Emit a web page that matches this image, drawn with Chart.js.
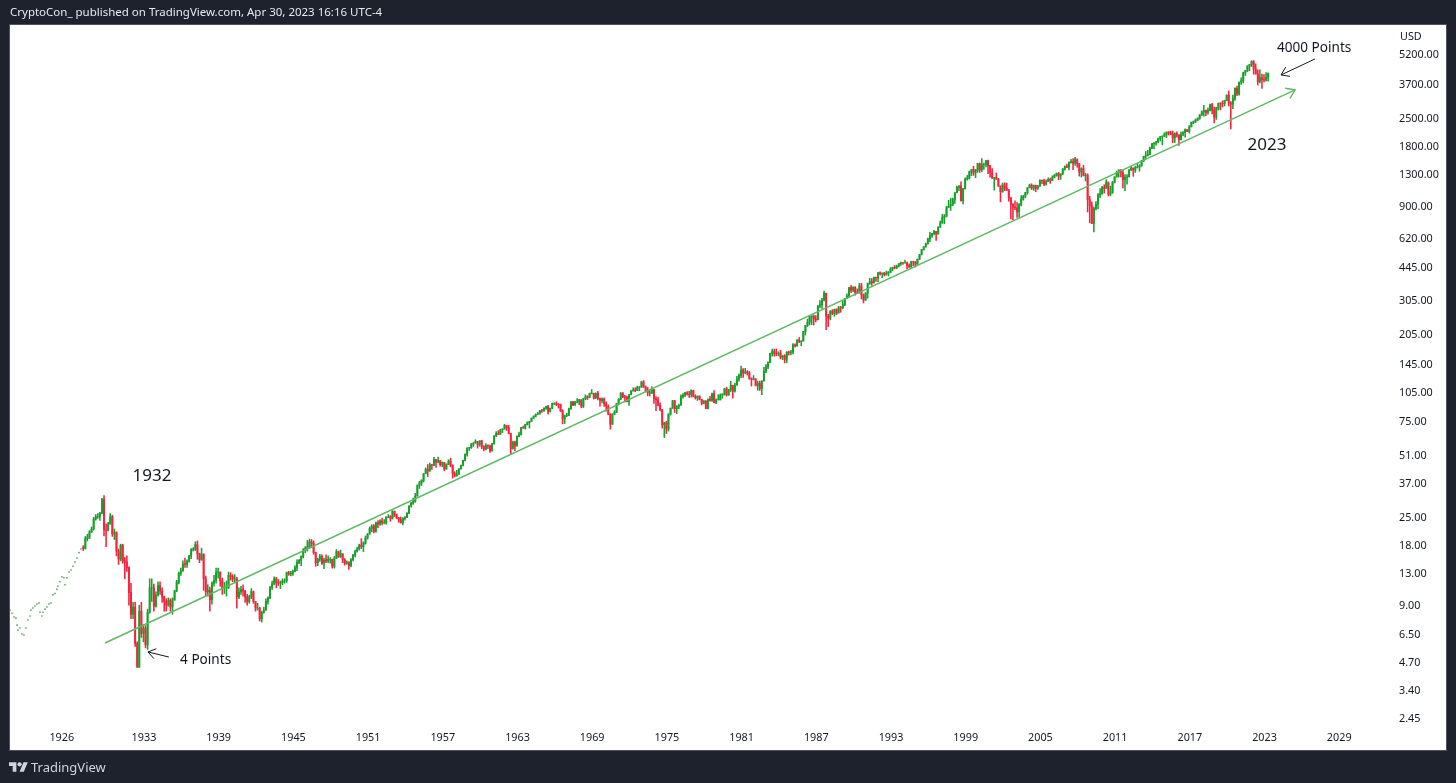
<html>
<head>
    <script src="https://cdn.jsdelivr.net/npm/chart.js@4"></script>
    <style>
        html, body {
            margin: 0;
            background-color: #1e222d;
            font-family: "Noto Sans", sans-serif;
            overflow: hidden;
        }
        #panel {
            position: absolute;
            left: 10px;
            top: 25px;
            width: 1436px;
            height: 725px;
            background-color: #fff;
            box-shadow: 0 0 0 1px #50535e;
        }
        #wrap {
            position: absolute;
            left: 0;
            top: 0;
            width: 1456px;
            height: 783px;
        }
        #header {
            position: absolute;
            left: 10px;
            top: 4px;
            font-size: 11.5px;
            line-height: 16px;
            color: #e8e9ee;
        }
        #footer {
            position: absolute;
            left: 9px;
            top: 758px;
            height: 18px;
            display: flex;
            align-items: center;
            font-size: 13px;
            color: #d1d4dc;
        }
        #footer svg {
            width: 19px;
            height: 15px;
            margin-right: 3px;
        }
    </style>
</head>
<body>
    <div id="panel"></div>
    <div id="wrap"><canvas id="priceChart"></canvas></div>
    <div id="header">CryptoCon_ published on TradingView.com, Apr 30, 2023 16:16 UTC-4</div>
    <div id="footer">
        <svg viewBox="0 0 36 28"><path fill="#d1d4dc" d="M14 22H7V11H0V4h14v18zM28 22h-8l7.5-18h8L28 22z"></path><circle fill="#d1d4dc" cx="20" cy="8" r="4"></circle></svg>
        TradingView
    </div>
    <script>
        const yearTicks = [1926.4, 1933, 1939, 1945, 1951, 1957, 1963, 1969, 1975, 1981, 1987, 1993, 1999, 2005, 2011, 2017, 2023, 2029];
        const priceTicks = [5200, 3700, 2500, 1800, 1300, 900, 620, 445, 305, 205, 145, 105, 75, 51, 37, 25, 18, 13, 9, 6.5, 4.7, 3.4, 2.45];

        // thin early data, only dots in the picture
        const dotYears = [1922.24, 1922.4, 1922.56, 1922.72, 1922.8, 1922.88, 1923.04, 1923.2, 1923.36, 1923.52, 1923.68, 1923.84, 1923.92, 1924.08, 1924.24, 1924.4, 1924.57, 1924.65, 1924.81, 1924.89, 1925.05, 1925.21, 1925.37, 1925.53, 1925.69, 1925.85, 1926.01, 1926.09, 1926.25, 1926.41, 1926.57, 1926.65, 1926.81, 1926.98, 1927.14, 1927.3, 1927.46, 1927.62, 1927.78, 1927.94];
        const dotPrices = [8.5, 8.2, 7.85, 7.75, 7.15, 6.75, 6.92, 6.45, 6.38, 6.92, 7.59, 7.95, 8.5, 8.71, 8.92, 9.13, 9.23, 8.3, 7.95, 8.3, 8.6, 8.82, 9.13, 9.23, 10.15, 10.3, 10.8, 11.2, 11.8, 12.5, 12.35, 11.4, 12.35, 13.2, 13.5, 14.1, 14.8, 15.5, 16.5, 17.2];

        // one candle per two months, one row per year, from 1928
        const firstYear = 1928;
        const barsPerYear = 6;
        const firstOpen = 17.5;
        const closes = [
            17.3,19.4,19.7,21.0,21.7,24.3,
            25.0,25.0,26.0,30.5,21.5,21.4,
            23.0,25.0,20.5,20.8,16.8,15.3,
            18.0,15.0,14.8,13.9,10.4,8.1,
            8.8,5.8,4.4,8.4,6.5,6.9,
            5.7,8.3,11.0,11.0,8.9,10.1,
            11.3,10.6,9.9,9.4,9.0,9.5,
            8.8,9.6,10.6,11.7,13.0,13.4,
            14.5,14.4,14.9,15.9,17.1,17.2,
            18.1,16.3,15.2,16.2,12.2,10.5,
            10.7,9.6,11.6,12.0,13.1,13.2,
            11.9,11.0,11.0,11.0,12.7,12.5,
            12.2,12.2,9.9,10.5,10.8,10.6,
            9.9,9.4,9.9,10.5,9.4,8.7,
            8.7,7.7,8.3,8.5,9.4,9.8,
            11.0,11.5,12.2,11.7,11.6,11.7,
            11.9,11.9,13.1,12.9,13.0,13.3,
            13.9,14.7,15.1,15.8,17.0,17.4,
            17.7,18.7,18.4,16.5,14.7,15.3,
            15.8,14.6,15.2,15.0,15.3,15.3,
            14.1,15.5,16.7,15.8,16.3,15.2,
            14.6,14.7,14.2,15.2,16.0,16.8,
            17.2,18.0,17.7,18.4,19.5,20.4,
            21.8,22.4,21.0,23.3,22.9,23.8,
            23.3,23.3,24.9,25.0,24.5,26.6,
            25.5,24.6,24.1,23.3,24.5,24.8,
            26.0,28.3,29.2,29.8,31.7,36.0,
            36.8,37.96,41.0,43.2,42.3,45.5,
            45.3,48.4,46.97,47.5,45.6,46.7,
            43.3,45.7,47.4,45.2,41.1,39.99,
            40.8,43.4,45.2,47.8,51.3,55.2,
            55.4,57.6,58.5,59.6,57.5,59.9,
            56.1,54.4,56.9,56.5,53.4,58.1,
            63.4,65.3,64.6,68.1,68.6,71.6,
            69.96,65.2,54.8,59.1,56.5,63.1,
            64.3,69.8,69.4,72.5,74.0,75.0,
            77.8,79.5,81.4,81.8,85.0,84.8,
            87.4,89.1,84.1,87.2,92.4,92.4,
            91.2,91.1,84.7,77.1,80.2,80.3,
            86.8,94.0,90.6,93.6,93.9,96.5,
            89.4,97.6,99.6,98.9,103.4,103.9,
            98.1,103.7,97.7,95.5,97.1,92.1,
            89.5,81.5,72.7,81.5,83.3,92.2,
            96.8,103.9,99.7,99.0,94.2,102.1,
            106.6,107.7,107.1,111.1,111.6,118.1,
            111.7,106.97,104.3,104.3,108.3,97.6,
            96.2,90.3,86.0,72.2,73.9,68.6,
            81.6,87.3,95.2,86.9,89.0,90.2,
            99.7,101.6,104.3,102.9,102.1,107.5,
            99.8,98.4,100.5,96.8,92.3,95.1,
            87.0,97.0,95.5,103.3,93.2,96.1,
            96.3,101.8,102.9,109.3,101.8,107.9,
            113.7,106.3,114.2,122.4,127.5,135.8,
            131.3,132.8,131.2,122.8,121.9,122.6,
            113.1,116.4,109.6,119.5,133.7,140.6,
            148.1,164.4,168.1,164.4,163.6,164.9,
            157.1,160.1,153.2,166.7,166.1,167.2,
            181.2,179.8,191.9,188.6,189.8,211.3,
            226.9,235.5,250.8,252.9,243.98,242.2,
            284.2,288.4,304.0,329.8,251.8,247.1,
            267.8,261.3,273.5,261.5,278.97,277.7,
            288.9,309.6,317.98,351.5,340.4,353.4,
            331.9,330.8,358.0,322.6,304.0,330.2,
            367.1,375.3,371.2,395.4,392.5,417.1,
            412.7,414.9,408.1,414.0,418.7,435.7,
            443.4,440.2,450.5,463.6,467.8,466.5,
            467.1,450.9,444.3,475.5,472.4,459.3,
            487.4,514.7,544.8,561.9,581.5,615.9,
            640.4,654.2,670.6,651.99,705.3,740.7,
            790.8,801.3,885.1,899.5,914.6,970.4,
            1049.3,1111.8,1133.8,957.3,1098.7,1229.2,
            1238.3,1335.2,1372.7,1320.4,1362.9,1469.3,
            1366.4,1452.4,1454.6,1517.7,1429.4,1320.3,
            1239.9,1249.5,1224.4,1133.6,1059.8,1148.1,
            1106.7,1076.9,989.8,916.1,885.8,879.8,
            841.2,916.9,974.5,1008.0,1050.7,1111.9,
            1144.9,1107.3,1140.8,1104.2,1130.2,1211.9,
            1203.6,1156.9,1191.3,1220.3,1207.0,1248.3,
            1280.7,1310.6,1270.2,1303.8,1377.9,1418.3,
            1406.8,1482.4,1503.4,1473.99,1549.4,1468.4,
            1330.6,1385.6,1280.0,1282.8,968.8,903.3,
            735.1,872.8,919.3,1020.6,1036.2,1115.1,
            1104.5,1186.7,1030.7,1049.3,1183.3,1257.6,
            1327.2,1363.6,1320.6,1218.9,1253.3,1257.6,
            1365.7,1397.9,1362.2,1406.6,1412.2,1426.2,
            1514.7,1597.6,1606.3,1632.97,1756.5,1848.4,
            1859.5,1883.95,1960.2,2003.4,2018.1,2058.9,
            2104.5,2085.5,2063.1,1972.2,2079.4,2043.9,
            1932.2,2065.3,2098.9,2170.95,2126.2,2238.8,
            2363.6,2384.2,2423.4,2471.7,2575.3,2673.6,
            2713.8,2648.1,2718.4,2901.5,2711.7,2506.9,
            2784.5,2945.8,2941.8,2926.5,3037.6,3230.8,
            2954.2,2912.4,3100.3,3500.3,3269.96,3756.1,
            3811.2,4181.2,4297.5,4522.7,4605.4,4766.2,
            4373.9,4131.9,3785.4,3955.0,3871.98,3839.5,
            3970.2,4169.5
        ];
        const highs = [
            17.9,19.9,20.4,21.3,22.2,24.8,
            25.6,25.9,26.3,30.9,31.9,23.0,
            23.4,25.9,25.4,21.7,21.0,17.2,
            18.2,18.2,15.6,15.9,14.0,11.6,
            9.3,9.3,5.9,9.0,9.3,7.2,
            7.1,8.6,12.2,12.2,11.5,10.5,
            11.8,11.8,11.0,10.0,9.7,9.8,
            9.7,9.8,10.7,12.0,13.2,13.8,
            15.0,15.5,15.2,16.0,17.3,17.5,
            18.7,18.9,16.4,17.4,16.3,12.6,
            11.4,11.1,11.8,12.7,13.8,13.8,
            13.2,12.3,11.7,11.9,13.2,13.1,
            12.8,12.8,12.4,11.0,11.2,11.4,
            10.7,10.2,10.1,10.9,10.6,9.4,
            9.2,8.8,8.4,8.8,9.7,9.9,
            11.2,11.9,12.5,12.4,12.1,11.9,
            12.2,12.2,13.2,13.3,13.3,13.5,
            14.2,15.2,15.3,15.9,17.3,17.7,
            19.0,19.3,19.2,18.9,16.6,15.5,
            16.2,16.1,15.5,16.1,15.9,15.6,
            15.3,15.8,17.1,16.8,17.0,16.3,
            15.4,15.0,14.9,15.4,16.2,17.0,
            17.6,18.2,19.4,18.7,20.0,20.6,
            22.2,22.8,22.8,23.5,23.9,24.1,
            24.6,24.2,25.0,25.6,25.3,26.8,
            26.7,25.8,24.8,24.9,24.7,25.0,
            26.2,28.3,29.5,31.0,32.7,36.0,
            37.6,38.3,41.1,43.9,45.6,46.4,
            45.7,49.6,47.9,49.7,47.9,47.0,
            46.7,46.0,48.2,49.1,45.5,42.0,
            42.6,43.5,45.3,48.0,51.6,55.3,
            55.6,58.2,58.7,60.7,58.0,60.0,
            60.4,56.7,58.0,57.3,57.0,58.3,
            63.7,66.6,67.4,68.5,69.0,72.6,
            71.1,71.6,65.5,59.8,59.8,63.5,
            66.4,70.0,71.0,72.6,74.6,75.2,
            78.0,80.0,81.7,83.4,85.3,86.3,
            87.8,89.6,90.3,87.5,92.7,93.0,
            94.1,92.2,91.6,85.8,80.7,82.4,
            87.4,94.3,94.6,94.6,97.6,96.6,
            96.0,97.9,101.9,100.9,104.0,108.4,
            103.7,104.2,106.2,98.2,98.5,98.3,
            93.9,90.7,82.0,81.9,85.0,92.6,
            97.6,104.7,104.5,101.2,100.4,102.2,
            107.0,110.4,110.7,112.6,112.1,119.2,
            120.2,113.0,111.0,108.5,111.8,108.3,
            99.8,99.0,93.0,86.1,74.3,75.2,
            82.0,87.6,95.6,95.6,90.0,91.6,
            102.0,103.4,104.9,105.8,106.0,107.8,
            107.0,102.0,100.5,100.7,96.9,95.3,
            95.0,97.1,100.3,104.0,107.0,97.4,
            102.0,103.0,103.1,109.6,111.3,108.6,
            119.1,114.0,116.6,126.0,130.0,141.9,
            137.9,138.4,134.7,133.8,124.0,127.3,
            122.9,119.3,119.5,120.0,140.0,144.4,
            149.0,165.0,172.6,172.7,173.0,167.6,
            170.4,160.4,162.0,168.0,169.0,170.4,
            183.9,183.6,192.0,197.0,190.0,212.0,
            227.0,244.0,252.0,254.0,256.0,254.0,
            285.0,302.0,310.0,337.0,329.0,258.0,
            269.0,272.0,274.0,275.0,283.0,283.0,
            300.0,310.0,327.0,352.0,360.0,354.0,
            354.0,346.0,369.0,369.0,326.0,331.0,
            370.0,391.0,390.0,396.0,396.0,418.0,
            421.0,416.0,419.0,425.0,423.0,442.0,
            445.0,453.0,455.0,464.0,471.0,470.0,
            482.0,471.0,462.0,476.0,475.0,474.0,
            488.0,515.0,546.0,564.0,587.0,622.0,
            664.0,656.0,680.0,672.0,708.0,757.0,
            818.0,815.0,897.0,961.0,983.0,986.0,
            1052.0,1133.0,1139.0,1190.0,1103.0,1244.0,
            1281.0,1346.0,1373.0,1421.0,1374.0,1473.0,
            1478.0,1553.0,1478.0,1518.0,1530.0,1438.0,
            1384.0,1250.0,1316.0,1239.0,1134.0,1173.0,
            1177.0,1172.0,1091.0,992.0,925.0,954.0,
            935.0,926.0,1015.0,1017.0,1053.0,1112.0,
            1158.0,1163.0,1147.0,1146.0,1143.0,1217.0,
            1213.0,1229.0,1217.0,1246.0,1243.0,1275.0,
            1295.0,1318.0,1326.0,1304.0,1389.0,1431.0,
            1461.0,1499.0,1541.0,1556.0,1576.0,1523.0,
            1471.0,1399.0,1440.0,1314.0,1303.0,1007.0,
            944.0,888.0,946.0,1040.0,1101.0,1130.0,
            1150.0,1220.0,1174.0,1131.0,1196.0,1263.0,
            1345.0,1365.0,1371.0,1357.0,1293.0,1292.0,
            1371.0,1423.0,1392.0,1426.0,1474.0,1449.0,
            1525.0,1598.0,1687.0,1710.0,1775.0,1849.0,
            1868.0,1897.0,1968.0,2005.0,2019.0,2094.0,
            2120.0,2126.0,2135.0,2133.0,2094.0,2116.0,
            2044.0,2112.0,2121.0,2194.0,2176.0,2278.0,
            2371.0,2401.0,2454.0,2491.0,2582.0,2695.0,
            2873.0,2718.0,2791.0,2917.0,2941.0,2815.0,
            2814.0,2949.0,2964.0,3028.0,3050.0,3248.0,
            3394.0,3000.0,3234.0,3515.0,3588.0,3760.0,
            3950.0,4218.0,4301.0,4538.0,4608.0,4809.0,
            4819.0,4637.0,4325.0,4325.0,4120.0,4101.0,
            4195.0,4170.0
        ];
        const lows = [
            16.9,17.2,18.9,19.4,20.8,21.4,
            24.0,24.5,23.9,25.9,20.0,17.7,
            21.2,22.9,19.9,19.2,15.9,14.4,
            15.0,14.6,12.2,13.3,9.0,7.7,
            7.7,5.6,4.4,4.4,6.2,5.9,
            5.5,5.4,8.2,9.4,8.4,8.8,
            10.0,10.2,9.3,8.4,8.4,8.9,
            8.4,8.1,9.5,10.5,11.5,12.7,
            13.3,13.9,13.9,14.8,15.4,16.8,
            16.9,15.3,14.7,15.1,10.7,10.0,
            10.0,8.4,9.1,11.2,11.6,12.3,
            11.2,10.2,10.3,10.0,10.9,12.0,
            11.8,11.7,8.7,9.7,10.2,10.0,
            9.3,9.0,9.2,9.7,9.2,8.4,
            8.5,7.5,7.4,8.2,8.5,9.1,
            9.7,10.8,11.4,11.0,11.3,10.9,
            11.4,11.6,11.7,12.7,12.6,12.7,
            13.2,13.4,14.5,14.2,15.5,16.5,
            16.8,17.3,17.5,16.2,14.1,14.2,
            14.9,14.4,13.7,14.7,14.7,14.6,
            13.8,13.8,15.4,15.6,15.6,14.7,
            14.3,14.4,13.6,14.0,15.0,15.7,
            16.6,17.0,17.3,16.7,18.2,19.3,
            20.6,21.0,20.7,20.9,22.0,22.6,
            22.7,23.0,22.9,24.7,23.7,24.3,
            25.0,24.4,23.4,23.2,22.7,24.0,
            24.7,25.9,27.9,28.8,29.5,31.7,
            34.6,35.8,37.3,41.0,39.7,42.3,
            43.1,45.0,44.1,46.5,44.7,44.4,
            42.4,43.2,45.5,44.4,38.98,39.5,
            39.9,40.7,43.2,44.9,47.6,50.2,
            53.6,54.9,56.3,58.3,55.1,56.3,
            54.7,53.4,54.0,54.7,52.5,53.2,
            57.6,62.9,64.3,64.5,65.9,68.7,
            67.6,65.0,51.4,54.5,53.5,56.4,
            62.7,64.1,69.2,68.7,71.9,69.5,
            75.1,77.6,79.0,81.1,81.6,83.2,
            84.2,86.2,81.6,83.7,87.0,90.9,
            90.0,87.4,84.0,72.9,73.2,79.2,
            80.4,86.0,89.8,90.3,92.9,90.9,
            87.7,88.0,96.2,96.5,98.5,102.8,
            97.0,97.9,96.0,89.5,92.7,89.2,
            84.4,80.9,68.6,72.3,81.0,83.2,
            90.6,96.4,98.5,93.8,93.9,90.2,
            101.7,106.2,105.6,106.9,106.8,110.8,
            110.9,105.4,100.7,100.5,103.4,92.2,
            84.9,89.6,84.7,69.4,62.3,65.2,
            67.1,80.6,87.0,83.1,82.1,86.8,
            90.9,98.0,99.7,101.5,98.8,99.2,
            99.5,97.0,95.5,96.1,90.7,91.9,
            86.9,86.7,94.8,94.4,92.7,92.0,
            96.1,95.9,98.0,101.6,100.4,101.2,
            105.8,98.2,105.2,113.6,119.4,124.2,
            124.7,129.7,127.9,121.8,112.8,120.9,
            113.1,107.3,107.1,102.2,119.5,131.7,
            138.0,147.6,159.0,159.0,160.0,160.0,
            154.2,152.7,147.3,147.3,161.0,161.5,
            163.4,176.4,177.9,186.0,179.5,189.0,
            203.0,224.0,228.0,229.0,228.0,236.0,
            242.0,278.0,276.0,301.0,216.0,224.0,
            242.0,257.0,252.0,257.0,262.0,264.0,
            275.0,285.0,309.0,313.0,331.0,335.0,
            322.0,329.0,329.0,308.0,294.0,303.0,
            311.0,365.0,360.0,370.0,377.0,375.0,
            405.0,394.0,401.0,405.0,402.0,417.0,
            426.0,436.0,437.0,446.0,453.0,459.0,
            466.0,435.0,443.0,444.0,452.0,445.0,
            459.0,485.0,511.0,541.0,559.0,580.0,
            597.0,626.0,645.0,605.0,650.0,703.0,
            737.0,733.0,793.0,885.0,855.0,904.0,
            927.0,1045.0,1074.0,951.0,923.0,1092.0,
            1212.0,1227.0,1278.0,1281.0,1247.0,1327.0,
            1325.0,1339.0,1373.0,1413.0,1305.0,1254.0,
            1236.0,1081.0,1225.0,1128.0,944.0,1054.0,
            1074.0,1077.0,952.0,775.0,768.0,862.0,
            788.0,789.0,902.0,962.0,990.0,1031.0,
            1108.0,1087.0,1077.0,1060.0,1090.0,1130.0,
            1163.0,1137.0,1146.0,1191.0,1168.0,1205.0,
            1245.0,1268.0,1219.0,1224.0,1290.0,1360.0,
            1406.0,1364.0,1476.0,1370.0,1439.0,1407.0,
            1270.0,1257.0,1272.0,1200.0,840.0,741.0,
            735.0,667.0,860.0,869.0,992.0,1029.0,
            1045.0,1101.0,1011.0,1011.0,1041.0,1173.0,
            1258.0,1256.0,1258.0,1110.0,1075.0,1159.0,
            1258.0,1354.0,1267.0,1325.0,1395.0,1344.0,
            1426.0,1501.0,1560.0,1604.0,1627.0,1746.0,
            1737.0,1814.0,1863.0,1905.0,1821.0,2001.0,
            1981.0,2040.0,2046.0,1867.0,1872.0,1993.0,
            1810.0,1931.0,2025.0,1992.0,2121.0,2084.0,
            2245.0,2322.0,2352.0,2408.0,2446.0,2557.0,
            2533.0,2553.0,2594.0,2692.0,2603.0,2346.0,
            2443.0,2722.0,2729.0,2822.0,2855.0,3028.0,
            2855.0,2192.0,2767.0,3038.0,3210.0,3233.0,
            3662.0,3723.0,4056.0,4233.0,4278.0,4495.0,
            4115.0,4121.0,3637.0,3723.0,3492.0,3764.0,
            3794.0,3800.0
        ];

        const trendYears = [1929.87, 2025.45];
        const trendPrices = [5.82, 3435];
        const arrowLowYears = [1935.0, 1933.32];
        const arrowLowPrices = [4.95, 5.25];
        const arrowHighYears = [2027.06, 2024.33];
        const arrowHighPrices = [4909, 4081];

        const bigNotes = ["1932", "2023"];
        const bigNoteYears = [1933.64, 2023.2];
        const bigNotePrices = [40.0, 1820];
        const smallNotes = ["4 Points", "4000 Points"];
        const smallNoteYears = [1935.9, 2024.0];
        const smallNotePrices = [4.79, 5573];

        const UP = "#16a02a";
        const DOWN = "#f7213c";
        const FONT = '"Noto Sans", sans-serif';

        const barYears = closes.map((c, i) => firstYear + (i + 0.75) / barsPerYear);
        const opens = closes.map((c, i) => i === 0 ? firstOpen : closes[i - 1]);
        const barColors = closes.map((c, i) => c >= opens[i] ? UP : DOWN);

        function pairs(xs, ys) {
            return xs.map((x, i) => ({x: x, y: ys[i]}));
        }

        // chevron at the last point of a line, and the text notes
        const notesPlugin = {
            id: "notes",
            afterDatasetsDraw(chart) {
                const ctx = chart.ctx;
                const xs = chart.scales.x;
                const ys = chart.scales.y;
                ctx.save();
                chart.data.datasets.forEach((ds, i) => {
                    if (!ds.arrowSize) return;
                    const pts = chart.getDatasetMeta(i).data;
                    const a = pts[0], b = pts[1];
                    const ang = Math.atan2(b.y - a.y, b.x - a.x);
                    ctx.strokeStyle = ds.borderColor;
                    ctx.lineWidth = ds.borderWidth;
                    ctx.beginPath();
                    ctx.moveTo(b.x - ds.arrowSize * Math.cos(ang - 0.6), b.y - ds.arrowSize * Math.sin(ang - 0.6));
                    ctx.lineTo(b.x, b.y);
                    ctx.lineTo(b.x - ds.arrowSize * Math.cos(ang + 0.6), b.y - ds.arrowSize * Math.sin(ang + 0.6));
                    ctx.stroke();
                });
                ctx.fillStyle = "#131722";
                ctx.textBaseline = "middle";
                ctx.font = "17px " + FONT;
                ctx.textAlign = "center";
                bigNotes.forEach((t, i) => {
                    ctx.fillText(t, xs.getPixelForValue(bigNoteYears[i]), ys.getPixelForValue(bigNotePrices[i]));
                });
                ctx.font = "13.6px " + FONT;
                ctx.textAlign = "left";
                smallNotes.forEach((t, i) => {
                    ctx.fillText(t, xs.getPixelForValue(smallNoteYears[i]), ys.getPixelForValue(smallNotePrices[i]));
                });
                ctx.font = "10.8px " + FONT;
                ctx.fillText("USD", 1400, 37);
                ctx.restore();
            }
        };

        Chart.defaults.font.family = FONT;

        new Chart(document.getElementById("priceChart"), {
            type: "bar",
            data: {
                datasets: [
                    {
                        label: "Wicks",
                        data: barYears.map((x, i) => ({x: x, y: [lows[i], highs[i]]})),
                        backgroundColor: barColors,
                        barThickness: 0.9,
                        order: 3,
                    },
                    {
                        label: "Bodies",
                        data: barYears.map((x, i) => ({x: x, y: [opens[i], closes[i]]})),
                        backgroundColor: barColors,
                        barThickness: 1.3,
                        order: 2,
                    },
                    {
                        type: "scatter",
                        label: "Early",
                        data: pairs(dotYears, dotPrices),
                        backgroundColor: "#58b868",
                        pointRadius: 0.8,
                        order: 4,
                    },
                    {
                        type: "line",
                        label: "Trend",
                        data: pairs(trendYears, trendPrices),
                        borderColor: "#5fb865",
                        borderWidth: 1.4,
                        pointRadius: 0,
                        arrowSize: 10,
                        order: 1,
                    },
                    {
                        type: "line",
                        label: "Arrow low",
                        data: pairs(arrowLowYears, arrowLowPrices),
                        borderColor: "#131722",
                        borderWidth: 1,
                        pointRadius: 0,
                        arrowSize: 9,
                        order: 1,
                    },
                    {
                        type: "line",
                        label: "Arrow high",
                        data: pairs(arrowHighYears, arrowHighPrices),
                        borderColor: "#131722",
                        borderWidth: 1,
                        pointRadius: 0,
                        arrowSize: 9,
                        order: 1,
                    },
                ]
            },
            options: {
                animation: false,
                responsive: true,
                maintainAspectRatio: false,
                layout: {
                    padding: {left: 10, top: 25, right: 10, bottom: 33},
                },
                datasets: {
                    bar: {grouped: false},
                },
                scales: {
                    x: {
                        type: "linear",
                        offset: false,
                        min: 1922.24,
                        max: 2033.56,
                        grid: {display: false, drawTicks: false},
                        border: {display: false},
                        afterBuildTicks: (scale) => {
                            scale.ticks = yearTicks.map((v) => ({value: v}));
                        },
                        afterFit: (scale) => {
                            scale.height = 24;
                        },
                        ticks: {
                            autoSkip: false,
                            maxRotation: 0,
                            padding: 5,
                            color: "#131722",
                            font: {size: 10.8},
                            callback: (v) => String(Math.floor(v)),
                        },
                    },
                    y: {
                        type: "logarithmic",
                        position: "right",
                        bounds: "data",
                        min: 2.234,
                        max: 7261,
                        grid: {display: false, drawTicks: false},
                        border: {display: false},
                        afterBuildTicks: (scale) => {
                            scale.ticks = priceTicks.map((v) => ({value: v}));
                        },
                        afterFit: (scale) => {
                            scale.width = 50;
                        },
                        ticks: {
                            autoSkip: false,
                            padding: 3,
                            labelOffset: 1,
                            color: "#131722",
                            font: {size: 10.8},
                            callback: (v) => v.toFixed(2),
                        },
                    },
                },
                plugins: {
                    legend: {display: false},
                    tooltip: {enabled: false},
                },
            },
            plugins: [notesPlugin],
        });
    </script>
</body>
</html>
